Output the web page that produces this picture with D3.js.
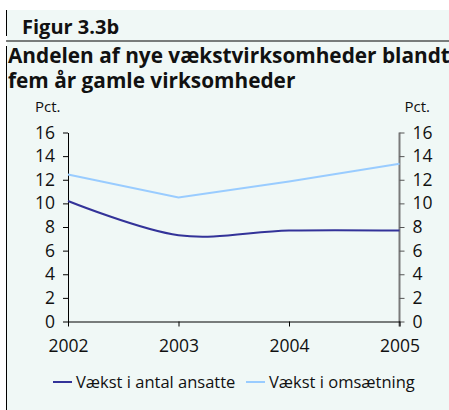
<!DOCTYPE html>
<html>
<head>
<meta charset="utf-8">
<script src="https://cdn.jsdelivr.net/npm/d3@7"></script>
<style>
  html, body { margin: 0; padding: 0; background: #fff; }
  svg { display: block; font-family: "Open Sans", sans-serif; }
</style>
</head>
<body>
<div id="chart"></div>
<script>
(() => {
  // data
  const years = [2002, 2003, 2004, 2005];
  const ansatte = [10.2, 7.3, 7.7, 7.7];      // Vækst i antal ansatte
  const omsaetning = [12.45, 10.5, 11.85, 13.35]; // Vækst i omsætning
  const yTicks = [0, 2, 4, 6, 8, 10, 12, 14, 16];
  const seriesNames = ["Vækst i antal ansatte", "Vækst i omsætning"];
  const seriesColors = ["#333399", "#99ccff"];

  const width = 449, height = 410;
  const bg = "#f0f8f6";
  const tickFont = 17.5;

  const svg = d3.select("#chart").append("svg")
    .attr("width", width)
    .attr("height", height);

  // panel background + frame lines
  svg.append("rect")
    .attr("x", 7).attr("y", 10)
    .attr("width", width - 7).attr("height", height - 10)
    .attr("fill", bg);

  svg.append("line")
    .attr("x1", 6.5).attr("x2", 6.5).attr("y1", 10).attr("y2", 36)
    .attr("stroke", "#000");
  svg.append("line")
    .attr("x1", 6.5).attr("x2", 6.5).attr("y1", 46).attr("y2", height)
    .attr("stroke", "#000");
  svg.append("line")
    .attr("x1", 6).attr("x2", width).attr("y1", 41).attr("y2", 41)
    .attr("stroke", "#000").attr("stroke-width", 1.2);

  svg.append("text")
    .attr("x", 22).attr("y", 34)
    .attr("font-size", 20).attr("font-weight", 700)
    .attr("fill", "#111")
    .text("Figur 3.3b");

  // title: one text element, two lines
  const titleLines = ["Andelen af nye vækstvirksomheder blandt", "fem år gamle virksomheder"];
  svg.append("text")
    .attr("font-size", 20.8).attr("font-weight", 700)
    .attr("fill", "#111")
    .selectAll("tspan")
    .data(titleLines)
    .join("tspan")
    .attr("x", 8)
    .attr("y", (d, i) => 63 + i * 24.5)
    .text(d => d);

  // plot area
  const left = 68, right = 399.5, top = 132.5, bottom = 321.5;

  const x = d3.scalePoint().domain(years).range([left, right]);
  const y = d3.scaleLinear().domain([0, 16]).range([bottom, top]);

  svg.append("text")
    .attr("x", 35).attr("y", 112)
    .attr("font-size", 15).attr("fill", "#111")
    .text("Pct.");
  svg.append("text")
    .attr("x", 430).attr("y", 112)
    .attr("text-anchor", "end")
    .attr("font-size", 15).attr("fill", "#111")
    .text("Pct.");

  const yLeft = svg.append("g")
    .attr("transform", `translate(${left},0)`)
    .call(d3.axisLeft(y).tickValues(yTicks).tickSize(5).tickPadding(8).tickSizeOuter(0));
  yLeft.select(".domain").attr("stroke", "#000");
  yLeft.selectAll("text").attr("font-size", tickFont).attr("fill", "#111")
    .attr("font-family", "Open Sans, sans-serif");

  const yRight = svg.append("g")
    .attr("transform", `translate(${right},0)`)
    .call(d3.axisRight(y).tickValues(yTicks).tickSize(5).tickPadding(8).tickSizeOuter(0));
  yRight.select(".domain").attr("stroke", "#7a7a7a").attr("stroke-width", 2)
    .attr("d", `M0,${top}V${bottom + 5}`);
  yRight.selectAll(".tick line").attr("stroke", "#555");
  yRight.selectAll("text").attr("font-size", tickFont).attr("fill", "#111")
    .attr("font-family", "Open Sans, sans-serif");

  const xAxis = svg.append("g")
    .attr("transform", `translate(0,${bottom})`)
    .call(d3.axisBottom(x).tickSize(5).tickPadding(13).tickSizeOuter(0));
  xAxis.select(".domain").attr("stroke", "#000");
  xAxis.selectAll("text").attr("font-size", tickFont).attr("fill", "#111")
    .attr("font-family", "Open Sans, sans-serif");

  // series
  const lineSmooth = d3.line()
    .x((d, i) => x(years[i]))
    .y(d => y(d))
    .curve(d3.curveCatmullRom.alpha(0));
  const lineStraight = d3.line()
    .x((d, i) => x(years[i]))
    .y(d => y(d));

  svg.append("path")
    .attr("d", lineStraight(omsaetning))
    .attr("fill", "none")
    .attr("stroke", seriesColors[1])
    .attr("stroke-width", 2);

  svg.append("path")
    .attr("d", lineSmooth(ansatte))
    .attr("fill", "none")
    .attr("stroke", seriesColors[0])
    .attr("stroke-width", 2);

  // legend
  const legendX = [53, 246];
  const legend = svg.append("g").selectAll("g")
    .data(seriesNames)
    .join("g")
    .attr("transform", (d, i) => `translate(${legendX[i]},382)`);
  legend.append("line")
    .attr("x1", 0).attr("x2", 19)
    .attr("stroke", (d, i) => seriesColors[i])
    .attr("stroke-width", 2);
  legend.append("text")
    .attr("x", 23).attr("y", 6)
    .attr("font-size", 16.5).attr("fill", "#111")
    .text(d => d);
})();
</script>
</body>
</html>
